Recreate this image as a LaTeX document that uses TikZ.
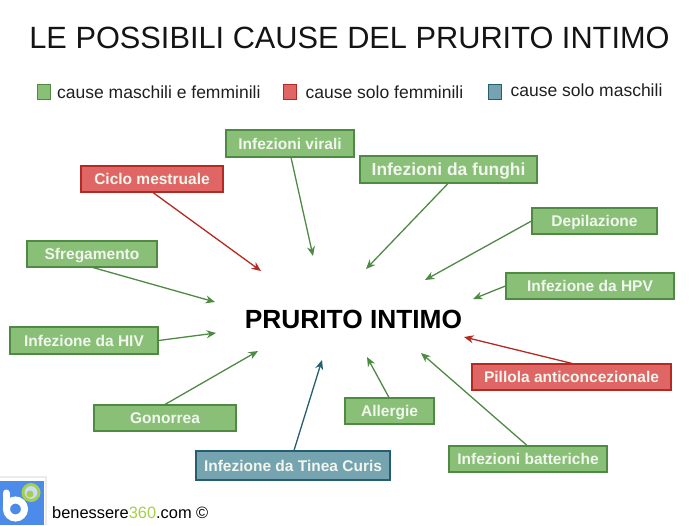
\documentclass[tikz,border=0pt]{standalone}
\usepackage{fontspec}
\setmainfont{Liberation Sans}
\usetikzlibrary{calc,arrows.meta}
\definecolor{gfill}{HTML}{8ABF78}
\definecolor{gline}{HTML}{4F8A45}
\definecolor{rfill}{HTML}{E06666}
\definecolor{rline}{HTML}{B32A22}
\definecolor{bfill}{HTML}{75A3AF}
\definecolor{bline}{HTML}{255E70}
\definecolor{gtxt}{HTML}{F1F7EE}
\definecolor{logob}{HTML}{4C8BEA}
\definecolor{logog}{HTML}{A6CF4A}
\tikzset{
  cause/.style={draw=#1line,fill=#1fill,line width=1.1pt,inner sep=0pt,text=gtxt,text depth=0pt},
  legbox/.style={draw=#1line,fill=#1fill,line width=1pt,inner sep=0pt,minimum width=13.5pt,minimum height=15pt},
  legtxt/.style={anchor=west,inner sep=0pt,text=black!88,font=\fontsize{17.5}{19}\selectfont},
  link/.style={draw=#1,line width=1.3pt,-{Stealth[length=9.5pt,width=8pt]}},
}
\newcommand{\cbox}[8]{% name, colour, x1, y1, x2, y2, text, size
  \node[cause=#2,minimum width=#5pt-#3pt,minimum height=#6pt-#4pt,text height=#8*0.72pt,font=\fontsize{#8}{16}\selectfont\bfseries] (#1) at ({(#3+#5)/2},{(#4+#6)/2}) {#7};}
\begin{document}
\begin{tikzpicture}[x=1pt,y=-1pt]
\useasboundingbox (0,0) rectangle (700,525);
\node[inner sep=0pt,text=black!92,font=\fontsize{30.75}{33}\selectfont] (title) at (349.5,38) {LE POSSIBILI CAUSE DEL PRURITO INTIMO};
% legend
\node[legbox=g] (lg) at (44,91.5) {};
\node[legtxt] (lgt) at (57,92) {cause maschili e femminili};
\node[legbox=r] (lr) at (290,91.5) {};
\node[legtxt] (lrt) at (305.5,92) {cause solo femminili};
\node[legbox=b] (lb) at (495,91.5) {};
\node[legtxt] (lbt) at (510.5,90.5) {cause solo maschili};
% centre
\node[inner sep=0pt,text=black,font=\fontsize{26.3}{28}\selectfont\bfseries] (centre) at (353.5,319) {PRURITO INTIMO};
% boxes
\cbox{virali}{g}{226}{130}{354}{157}{Infezioni virali}{15.5}
\cbox{ciclo}{r}{81}{166}{223}{192}{Ciclo mestruale}{15.5}
\cbox{funghi}{g}{360}{156}{537}{183}{Infezioni da funghi}{17.4}
\cbox{depil}{g}{532}{208}{657}{234}{Depilazione}{15.5}
\cbox{sfreg}{g}{27}{241}{157}{267}{Sfregamento}{15.5}
\cbox{hpv}{g}{506}{273}{674}{299}{Infezione da HPV}{15.5}
\cbox{hiv}{g}{10}{327}{158}{354}{Infezione da HIV}{15.5}
\cbox{pillola}{r}{472}{364}{671}{390}{Pillola anticoncezionale}{15.5}
\cbox{gono}{g}{94}{405}{236}{431}{Gonorrea}{15.5}
\cbox{allergie}{g}{345}{398}{434}{424}{Allergie}{15.5}
\cbox{tinea}{b}{196}{451}{390}{480}{Infezione da Tinea Curis}{15.5}
\cbox{batt}{g}{449}{446}{607}{472}{Infezioni batteriche}{15.5}
% free ends of the arrows
\coordinate (evirali) at (313,256);
\coordinate (eciclo) at (261,271);
\coordinate (efunghi) at (366,269);
\coordinate (edepil) at (425,280);
\coordinate (esfreg) at (215,302);
\coordinate (ehpv) at (473,299);
\coordinate (ehiv) at (216,333);
\coordinate (epillola) at (464,337);
\coordinate (egono) at (258,351);
\coordinate (etinea) at (322,360);
\coordinate (eallergie) at (367,357);
\coordinate (ebatt) at (421,353);
% arrows
\draw[link=gline] ($(virali.south west)!0.508!(virali.south east)$) -- (evirali);
\draw[link=rline] ($(ciclo.south west)!0.507!(ciclo.south east)$) -- (eciclo);
\draw[link=gline] ($(funghi.south west)!0.497!(funghi.south east)$) -- (efunghi);
\draw[link=gline] (depil.west) -- (edepil);
\draw[link=gline] ($(sfreg.south west)!0.508!(sfreg.south east)$) -- (esfreg);
\draw[link=gline] (hpv.west) -- (ehpv);
\draw[link=gline] (hiv.east) -- (ehiv);
\draw[link=rline] ($(pillola.north west)!0.503!(pillola.north east)$) -- (epillola);
\draw[link=gline] ($(gono.north west)!0.500!(gono.north east)$) -- (egono);
\draw[link=bline] ($(tinea.north west)!0.505!(tinea.north east)$) -- (etinea);
\draw[link=gline] ($(allergie.north west)!0.494!(allergie.north east)$) -- (eallergie);
\draw[link=gline] ($(batt.north west)!0.494!(batt.north east)$) -- (ebatt);
% logo
\fill[black!8] (0,476) rectangle (47,525);
\fill[white] (0,478) rectangle (45,525);
\fill[logob] (0,480.5) rectangle (44,525);
\draw[white,line width=7pt,line cap=round] (6,493) -- (6,509);
\draw[white,line width=7pt] (15.5,509) circle (9);
\draw[logog,line width=3pt,fill=logob!30!white] (31,492.5) circle (8);
\fill[logog] (30,494) circle (3.5);
\node[inner sep=0pt,anchor=west,font=\fontsize{16.4}{18}\selectfont] (foot) at (52,513) {benessere\textcolor{logog}{360}.com ©};
\end{tikzpicture}
\end{document}
